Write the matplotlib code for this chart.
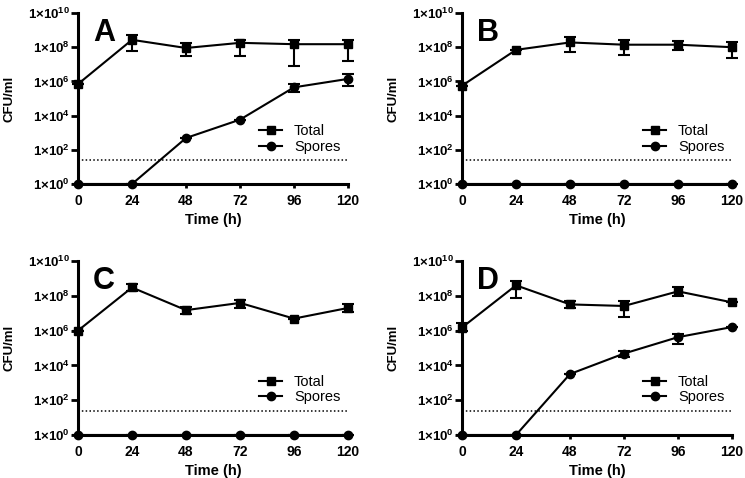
import matplotlib
matplotlib.use("Agg")
import matplotlib.pyplot as plt
import numpy as np
from matplotlib.ticker import FixedLocator, FuncFormatter
from matplotlib.lines import Line2D

plt.rcParams['font.family'] = ['Liberation Sans', 'DejaVu Sans']
plt.rcParams['mathtext.fontset'] = 'custom'
plt.rcParams['mathtext.rm'] = 'Liberation Sans'
plt.rcParams['mathtext.bf'] = 'Liberation Sans:bold'

time_h = [0, 24, 48, 72, 96, 120]
detection_limit = 25

# Panel A
A_total = [7e5, 2.7e8, 9e7, 1.8e8, 1.5e8, 1.5e8]
A_total_lo = [7e5, 5.8e7, 3e7, 3e7, 8.3e6, 1.6e7]
A_total_hi = [7e5, 4.9e8, 1.7e8, 2.8e8, 2.8e8, 2.8e8]
A_spores = [1, 1, 490, 5.8e3, 4.5e5, 1.4e6]
A_spores_lo = [1, 1, 490, 5.8e3, 2.3e5, 5.6e5]
A_spores_hi = [1, 1, 490, 5.8e3, 7e5, 2.6e6]

# Panel B
B_total = [5.6e5, 7e7, 1.9e8, 1.4e8, 1.4e8, 1e8]
B_total_lo = [5.6e5, 7e7, 5e7, 3.6e7, 6.6e7, 2.3e7]
B_total_hi = [5.6e5, 7e7, 3.8e8, 2.8e8, 2.2e8, 1.9e8]
B_spores = [1, 1, 1, 1, 1, 1]

# Panel C
C_total = [1e6, 3e8, 1.5e7, 3.9e7, 4.9e6, 2e7]
C_total_lo = [1e6, 1.9e8, 9.5e6, 2e7, 4.9e6, 1.1e7]
C_total_hi = [1e6, 4.6e8, 2.4e7, 6e7, 4.9e6, 3.5e7]
C_spores = [1, 1, 1, 1, 1, 1]

# Panel D
D_total = [1.5e6, 4e8, 3.2e7, 2.6e7, 1.8e8, 4.2e7]
D_total_lo = [9e5, 7.6e7, 2e7, 6.2e6, 1e8, 4.2e7]
D_total_hi = [2.6e6, 6.9e8, 5e7, 5e7, 3e8, 4.2e7]
D_spores = [1, 1, 3.2e3, 4.8e4, 4.2e5, 1.6e6]
D_spores_lo = [1, 1, 3.2e3, 3.2e4, 1.6e5, 1.6e6]
D_spores_hi = [1, 1, 3.2e3, 6.5e4, 6.5e5, 1.6e6]

panels = [
    ("A", A_total, A_total_lo, A_total_hi, A_spores, A_spores_lo, A_spores_hi),
    ("B", B_total, B_total_lo, B_total_hi, B_spores, B_spores, B_spores),
    ("C", C_total, C_total_lo, C_total_hi, C_spores, C_spores, C_spores),
    ("D", D_total, D_total_lo, D_total_hi, D_spores, D_spores_lo, D_spores_hi),
]

y_ticks = [1e0, 1e2, 1e4, 1e6, 1e8, 1e10]
x_ticks = [0, 24, 48, 72, 96, 120]

fig = plt.figure(figsize=(7.45, 4.78), dpi=100)
W, H = 745, 478
boxes = {
    "A": (78, 13, 348, 184),
    "B": (462, 13, 732, 184),
    "C": (78, 261, 348, 435),
    "D": (462, 261, 732, 435),
}

def fmt(v, pos):
    e = int(round(np.log10(v)))
    return r'$\mathbf{1{\times}10^{%d}}$' % e

for name, tot, tlo, thi, sp, slo, shi in panels:
    x0, y0, x1, y1 = boxes[name]
    ax = fig.add_axes([x0 / W, 1 - y1 / H, (x1 - x0) / W, (y1 - y0) / H])
    tot = np.array(tot); tlo = np.array(tlo); thi = np.array(thi)
    sp = np.array(sp); slo = np.array(slo); shi = np.array(shi)
    ax.set_yscale('log')
    ax.set_xlim(0, 120)
    ax.set_ylim(1, 1e10)
    ax.axhline(detection_limit, color='black', lw=1.1, ls=(0, (1, 1.5)), zorder=1)
    ax.errorbar(time_h, tot, yerr=[tot - tlo, thi - tot], color='black', lw=1.5,
                marker='s', ms=6, capsize=4.5, capthick=1.5, elinewidth=1.5,
                clip_on=False, zorder=3)
    ax.errorbar(time_h, sp, yerr=[sp - slo, shi - sp], color='black', lw=1.5,
                marker='o', ms=6, capsize=4.5, capthick=1.5, elinewidth=1.5,
                clip_on=False, zorder=3)
    for s in ['top', 'right']:
        ax.spines[s].set_visible(False)
    for s in ['left', 'bottom']:
        ax.spines[s].set_linewidth(2.2)
    ax.yaxis.set_major_locator(FixedLocator(y_ticks))
    ax.yaxis.set_minor_locator(FixedLocator([]))
    ax.yaxis.set_major_formatter(FuncFormatter(fmt))
    ax.set_xticks(x_ticks)
    ax.set_xticklabels([str(t) for t in x_ticks], fontweight='bold')
    ax.tick_params(axis='y', length=5, width=2, labelsize=9.5, pad=1)
    ax.tick_params(axis='x', length=3, width=2, labelsize=10, pad=4)
    ax.set_xlabel('Time (h)', fontweight='bold', fontsize=10.5, labelpad=4)
    ax.set_ylabel('CFU/ml', fontweight='bold', fontsize=9.5, labelpad=9)
    ax.text(0.055, 0.97, name, transform=ax.transAxes, fontsize=22,
            fontweight='bold', va='top', ha='left')
    handles = [Line2D([], [], color='black', lw=1.5, marker='s', ms=6),
               Line2D([], [], color='black', lw=1.5, marker='o', ms=6)]
    ax.legend(handles, ['Total', 'Spores'], loc='lower right',
              bbox_to_anchor=(1.02, 0.1), frameon=False, fontsize=10.5,
              handlelength=1.6, handletextpad=0.8, labelspacing=0.12)

fig.savefig('out.png', dpi=100)
